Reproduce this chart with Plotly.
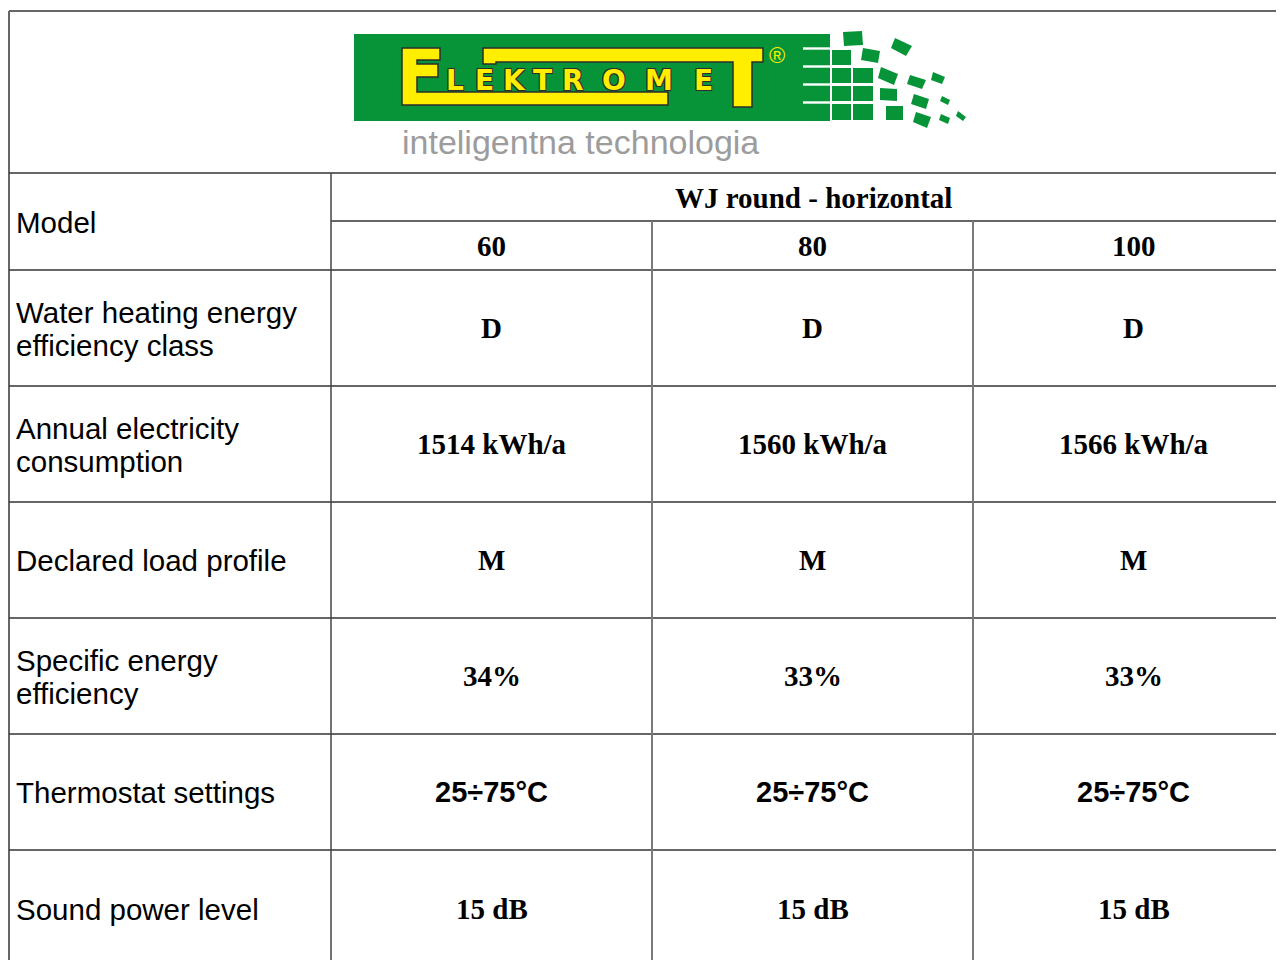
import plotly.graph_objects as go

# ---------------- data ----------------
series_name = "WJ round - horizontal"
models = ["60", "80", "100"]
row_labels = [
    ["Water heating energy", "efficiency class"],
    ["Annual electricity", "consumption"],
    ["Declared load profile"],
    ["Specific energy", "efficiency"],
    ["Thermostat settings"],
    ["Sound power level"],
]
energy_class = ["D", "D", "D"]
annual_kwh = [1514, 1560, 1566]
load_profile = ["M", "M", "M"]
efficiency_pct = [34, 33, 33]
thermostat = ["25÷75°C", "25÷75°C", "25÷75°C"]
sound_db = [15, 15, 15]

logo_word_middle = "LEKTROME"
logo_tagline = "inteligentna technologia"

value_rows = [
    energy_class,
    [f"{v} kWh/a" for v in annual_kwh],
    load_profile,
    [f"{v}%" for v in efficiency_pct],
    thermostat,
    [f"{v} dB" for v in sound_db],
]
value_fonts = ["serif", "serif", "serif", "serif", "sans", "serif"]

# ---------------- layout geometry (page pixel space) ----------------
W, H = 1284, 960
OFF = 8  # default page margin of the html body
x_left = 9
y_top = 11
y_logo = 173
y_head_mid = 221
row_edges = [270, 386, 502, 618, 734, 850, 966]
col_x = [331, 652, 973, 1294]

SANS = "Liberation Sans, Arial, sans-serif"
SERIF = "Liberation Serif, Times New Roman, serif"
HLINE = "#333333"
VLINE = "#7a7a7a"

fig = go.Figure()
shapes = []
ann = []


def line(x0, y0, x1, y1, color, w=1.5):
    shapes.append(dict(type="line", x0=x0, y0=y0, x1=x1, y1=y1, xref="x", yref="y",
                       line=dict(color=color, width=w), layer="above"))


# outer border
line(x_left, y_top, W + 20, y_top, "#666666", 2)
line(x_left, y_top, x_left, H + 20, "#666666", 2)
# horizontal rules
line(x_left, y_logo, W + 20, y_logo, HLINE, 1.5)
line(col_x[0], y_head_mid, W + 20, y_head_mid, HLINE, 1.5)
for ye in row_edges[:-1]:
    line(x_left, ye, W + 20, ye, HLINE, 1.5)
# vertical rules
line(col_x[0], y_logo, col_x[0], H + 20, "#444444", 1.5)
for cx in col_x[1:3]:
    line(cx, y_head_mid, cx, H + 20, VLINE, 2)

# ---------------- logo ----------------
GREEN = "#079438"
YEL = "#ffee00"
OUT = "#2d2d2d"


def rect(x0, y0, x1, y1, color, lc=None, lw=0):
    shapes.append(dict(type="rect", x0=x0, y0=y0, x1=x1, y1=y1, xref="x", yref="y",
                       fillcolor=color, line=dict(color=lc or color, width=lw), layer="below"))


def poly(pts, color, lc=None, lw=0):
    p = "M " + " L ".join(f"{a},{b}" for a, b in pts) + " Z"
    shapes.append(dict(type="path", path=p, xref="x", yref="y", fillcolor=color,
                       line=dict(color=lc or color, width=lw), layer="below"))


rect(354, 34, 830, 121, GREEN)
# white stripes cutting the right end
for ys in [48.5, 66.5, 84.5, 102.5]:
    rect(803, ys - 1.2, 832, ys + 1.2, "white")
# grid cells
for (y0, y1) in [(50, 65), (68, 83), (86, 101), (104, 120)]:
    rect(832, y0, 851, y1, GREEN)
for (y0, y1) in [(68, 83), (86, 101), (104, 120)]:
    rect(853, y0, 873, y1, GREEN)
# scattered tilted squares
squares = [
    [(843, 32), (862, 31), (863, 45), (844, 46)],
    [(895, 38), (912, 46), (906, 56), (891, 48)],
    [(863, 48), (880, 51), (878, 63), (861, 60)],
    [(881, 67), (898, 74), (894, 85), (878, 78)],
    [(910, 75), (926, 80), (922, 89), (907, 84)],
    [(933, 72), (945, 77), (942, 84), (931, 80)],
    [(880, 88), (897, 89), (897, 101), (880, 100)],
    [(914, 94), (929, 99), (926, 109), (911, 104)],
    [(942, 96), (950, 100), (948, 105), (940, 101)],
    [(886, 106), (903, 106), (903, 120), (886, 120)],
    [(916, 112), (931, 117), (927, 128), (913, 122)],
    [(941, 114), (950, 118), (948, 124), (939, 120)],
    [(958, 111), (966, 117), (963, 121), (956, 116)],
]
for sq in squares:
    poly(sq, GREEN)

# big E joined to the lower bar
poly([(402, 48), (440, 48), (440, 60), (417, 60), (417, 64), (438, 64), (438, 77),
      (417, 77), (417, 92), (668, 92), (668, 105), (402, 105)], YEL, OUT, 1.5)
# big T joined to the upper bar
poly([(483, 48), (763, 48), (763, 62), (752, 62), (752, 107), (733, 107), (733, 62),
      (496, 62), (496, 64), (483, 64)], YEL, OUT, 1.5)

letter_x = [455, 484, 514, 542, 573, 614, 659, 703]
OUTLINE = f"-1px -1px 0 {OUT}, 1px -1px 0 {OUT}, -1px 1px 0 {OUT}, 1px 1px 0 {OUT}"
for ch, lx in zip(logo_word_middle, letter_x):
    ann.append(dict(x=lx, y=80, text=f"<b>{ch}</b>", showarrow=False, xref="x", yref="y",
                    xanchor="center", yanchor="middle",
                    font=dict(family="DejaVu Sans, Liberation Sans", size=28, color=YEL,
                              shadow=OUTLINE)))
ann.append(dict(x=777, y=55, text="®", showarrow=False, xref="x", yref="y",
                xanchor="center", yanchor="middle",
                font=dict(family=SANS, size=22, color=YEL)))
ann.append(dict(x=400, y=142, text=logo_tagline, showarrow=False, xref="x", yref="y",
                xanchor="left", yanchor="middle",
                font=dict(family="Liberation Sans Narrow, Arial Narrow, Liberation Sans", size=34,
                          color="#9c9c9c")))

# ---------------- header text ----------------
LX = 14
LFS = 29.5
ann.append(dict(x=LX, y=222, text="Model", showarrow=False, xref="x", yref="y",
                xanchor="left", yanchor="middle", font=dict(family=SANS, size=LFS, color="black")))
ann.append(dict(x=813, y=198, text=f"<b>{series_name}</b>", showarrow=False, xref="x", yref="y",
                xanchor="center", yanchor="middle", font=dict(family=SERIF, size=29, color="black")))
col_centers = [(col_x[i] + col_x[i + 1]) / 2 for i in range(3)]
for m, cx in zip(models, col_centers):
    ann.append(dict(x=cx, y=246, text=f"<b>{m}</b>", showarrow=False, xref="x", yref="y",
                    xanchor="center", yanchor="middle", font=dict(family=SERIF, size=29, color="black")))

# ---------------- body ----------------
for r, (labels, vals, fk) in enumerate(zip(row_labels, value_rows, value_fonts)):
    y0, y1 = row_edges[r], row_edges[r + 1]
    yc = (y0 + y1) / 2 if r < 5 else 909
    if len(labels) == 1:
        ys = [yc]
    else:
        ys = [yc - 16, yc + 17]
    for lab, yy in zip(labels, ys):
        ann.append(dict(x=LX, y=yy, text=lab, showarrow=False, xref="x", yref="y",
                        xanchor="left", yanchor="middle",
                        font=dict(family=SANS, size=LFS, color="black")))
    fam = SERIF if fk == "serif" else SANS
    for v, cx in zip(vals, col_centers):
        ann.append(dict(x=cx, y=yc, text=f"<b>{v}</b>", showarrow=False, xref="x", yref="y",
                        xanchor="center", yanchor="middle",
                        font=dict(family=fam, size=29, color="black")))

fig.update_layout(
    width=W, height=H,
    margin=dict(l=0, r=0, t=0, b=0),
    paper_bgcolor="white", plot_bgcolor="white",
    xaxis=dict(range=[OFF, W + OFF], visible=False, fixedrange=True),
    yaxis=dict(range=[H + OFF, OFF], visible=False, fixedrange=True),
    shapes=shapes, annotations=ann, showlegend=False,
)
fig.write_html("out.html")
